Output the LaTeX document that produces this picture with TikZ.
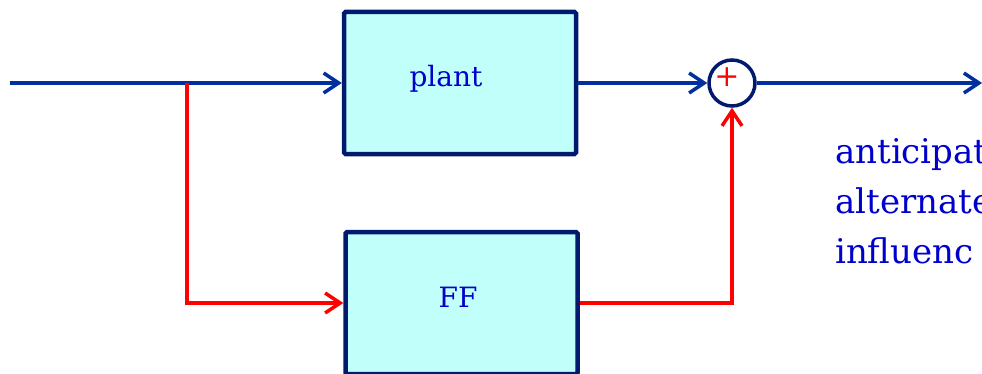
\documentclass[tikz,border=0pt]{standalone}
\usepackage{fontspec}
\usepackage{xcolor}
\usetikzlibrary{arrows.meta}
\setmainfont{DejaVu Serif}

\definecolor{boxline}{RGB}{0,26,110}
\definecolor{boxfill}{RGB}{192,255,250}
\definecolor{sigblue}{RGB}{0,48,160}
\definecolor{txtblue}{RGB}{0,0,204}

\tikzset{
    block/.style={draw=boxline, line width=4.5pt, fill=boxfill, rounded corners=1.5pt,
        minimum width=232pt, minimum height=142pt, inner sep=0pt},
    sumnode/.style={circle, draw=boxline, line width=3.5pt, fill=white,
        minimum size=46pt, inner sep=0pt},
    blockname/.style={text=txtblue, font=\fontsize{28}{34}\selectfont, inner sep=0pt},
    sigline/.style={sigblue, line width=3.5pt, -{Straight Barb[length=15pt, width=20pt]}},
    ffline/.style={red, line width=3.5pt, -{Straight Barb[length=15pt, width=20pt]}}
}

\begin{document}
\begin{tikzpicture}[x=1pt, y=1pt]

    \useasboundingbox (0, 0) rectangle (982, 373);

    % Blocks and summing point
    \node[block] (plant) at (460, 290) {};
    \node[block] (ff) at (461.5, 70) {};
    \node[sumnode] (sum) at (732, 290) {};

    \node[blockname, anchor=base] (plantname) at (446, 287) {plant};
    \node[blockname, anchor=base] (ffname) at (458, 66) {FF};
    \node[text=red, font=\fontsize{30}{34}\selectfont, inner sep=0pt] (plus) at (727, 296) {+};

    % Signal lines
    \coordinate (input) at (10, 290);
    \coordinate (split) at (187, 290);
    \coordinate (output) at (982, 290);

    \draw[sigline] (input) -- (plant.west);
    \draw[sigline] (plant.east) -- (sum.west);
    \draw[sigline] (sum.east) -- (output);

    % Feedforward path
    \draw[ffline] (split) |- (ff.west);
    \draw[ffline] (ff.east) -| (sum.south);

    % base of the last line
    \node[anchor=base west, align=left, text=txtblue, inner sep=0pt,
        font=\fontsize{34}{50}\selectfont] (note) at (835, 110)
        {anticipat\\alternate\\influenc};

\end{tikzpicture}
\end{document}
